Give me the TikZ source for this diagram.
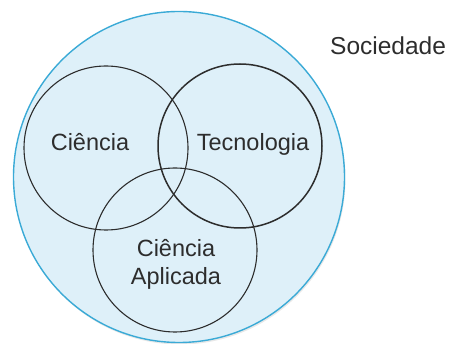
\documentclass[tikz,border=0pt]{standalone}
\usepackage{fontspec}
\setmainfont{Liberation Sans}
\usetikzlibrary{positioning}

\definecolor{skyfill}{RGB}{222,240,249}
\definecolor{skyline}{RGB}{58,170,214}
\definecolor{inkgray}{RGB}{45,45,45}

\tikzset{
  venn/.style={circle, draw=inkgray, line width=1.1pt, minimum size=164pt, inner sep=0pt},
  lbl/.style={text=inkgray, font=\fontsize{23.5}{28}\selectfont, inner sep=0pt}
}

\begin{document}
\begin{tikzpicture}[x=1pt, y=-1pt]
	\useasboundingbox (0,0) rectangle (453,344);

	% society
	\node[circle, fill=black!18, opacity=0.5, minimum size=331pt, inner sep=0pt] (shadow) at (180,179) {};
	\node[circle, fill=skyfill, draw=skyline, line width=1.4pt, minimum size=331pt, inner sep=0pt] (sociedade) at (179,177) {};

	% the three fields
	\node[venn] (ciencia) at (106,148) {};
	\node[venn, line width=1.5pt] (tecnologia) at (240,146) {};
	\node[venn] (aplicada) at (175,250) {};

	\node[lbl, anchor=base] (tciencia) at (90,151) {Ciência};
	\node[lbl, anchor=base] (ttecnologia) at (253,151) {Tecnologia};
	\node[lbl, anchor=base] (taplicada1) at (176,257) {Ciência};
	\node[lbl, anchor=base] (taplicada2) at (176,285) {Aplicada};

	\node[lbl, font=\fontsize{24.5}{28}\selectfont, anchor=base west] (tsociedade) at (330,55) {Sociedade};
\end{tikzpicture}
\end{document}
